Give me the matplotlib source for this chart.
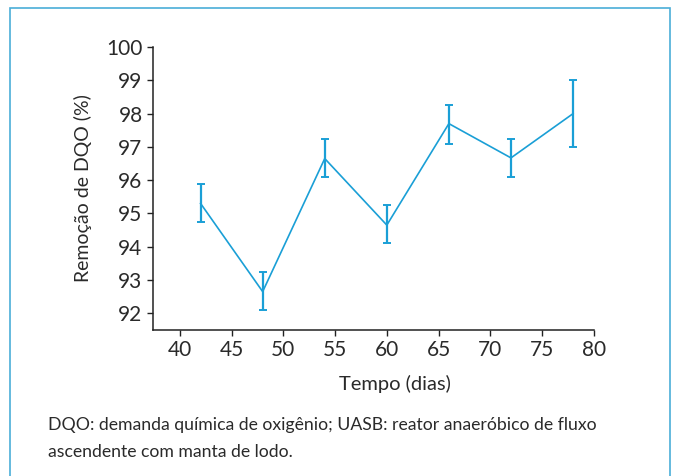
import matplotlib.pyplot as plt
from matplotlib.patches import Rectangle

# dados
dias = [42, 48, 54, 60, 66, 72, 78]
remocao = [95.3, 92.65, 96.65, 94.65, 97.7, 96.67, 98.0]
erro_sup = [0.6, 0.6, 0.6, 0.6, 0.55, 0.58, 1.0]
erro_inf = [0.55, 0.55, 0.55, 0.55, 0.6, 0.57, 1.0]
xticks = [40, 45, 50, 55, 60, 65, 70, 75, 80]
yticks = [92, 93, 94, 95, 96, 97, 98, 99, 100]

azul = '#1a9fd6'
texto = '#2a2a2a'
plt.rcParams['font.family'] = ['Lato', 'DejaVu Sans']

fig = plt.figure(figsize=(6.77, 4.76), dpi=100)
ax = fig.add_axes([0.226, 0.307, 0.651, 0.594])

ax.errorbar(dias, remocao, yerr=[erro_inf, erro_sup], color=azul, lw=1.2,
            elinewidth=1.6, capsize=3, capthick=1.4)

ax.set_xlim(37.4, 80)
ax.set_ylim(91.5, 100)
ax.set_xticks(xticks)
ax.set_yticks(yticks)
ax.tick_params(labelsize=15, colors='#222222', length=4, width=1, labelcolor=texto)
for s in ['top', 'right']:
    ax.spines[s].set_visible(False)
for s in ['left', 'bottom']:
    ax.spines[s].set_linewidth(1.1)
    ax.spines[s].set_color('#222222')

ax.set_xlabel('Tempo (dias)', fontsize=14.5, color=texto)
ax.xaxis.set_label_coords(0.548, -0.16)
ax.set_ylabel('Remoção de DQO (%)', fontsize=14, color=texto, labelpad=10)

fig.text(0.071, 1 - 425 / 476, 'DQO: demanda química de oxigênio; UASB: reator anaeróbico de fluxo',
         fontsize=12.7, color=texto, va='center')
fig.text(0.071, 1 - 452 / 476, 'ascendente com manta de lodo.',
         fontsize=12.7, color=texto, va='center')

fig.patches.append(Rectangle((0.015, -0.01), 0.975, 0.993, transform=fig.transFigure,
                             fill=False, edgecolor='#4aaed8', lw=1.2))

fig.savefig('out.png', dpi=100)
